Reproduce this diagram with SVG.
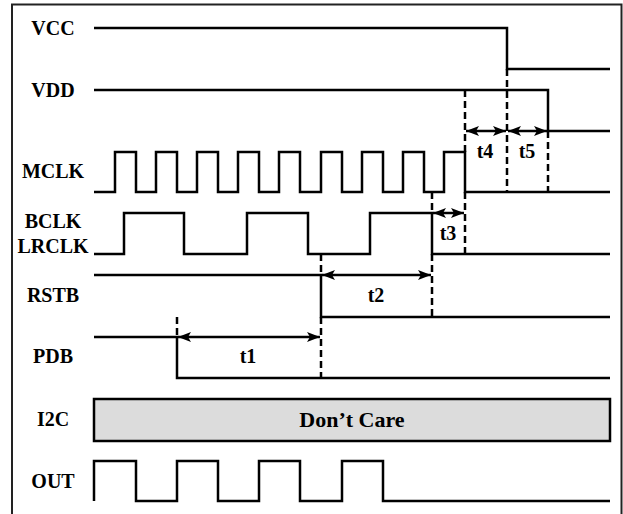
<svg xmlns="http://www.w3.org/2000/svg" width="623" height="514" viewBox="0 0 623 514">
<style>
.sig{fill:none;stroke:#000;stroke-width:2.5;stroke-linejoin:miter;stroke-linecap:butt}
.dash{fill:none;stroke:#000;stroke-width:2.5;stroke-dasharray:7,4}
.arr{fill:none;stroke:#000;stroke-width:2.5;marker-start:url(#ah);marker-end:url(#ah)}
.lbl{font-family:"Liberation Serif","Times New Roman",serif;font-weight:bold;font-size:20px;text-anchor:middle;fill:#000}
.tl{font-family:"Liberation Serif","Times New Roman",serif;font-weight:bold;font-size:20px;text-anchor:middle;fill:#000}
.dc{font-family:"Liberation Serif","Times New Roman",serif;font-weight:bold;font-size:22px;text-anchor:middle;fill:#000}
</style>
<defs>
<marker id="ah" markerUnits="userSpaceOnUse" markerWidth="14" markerHeight="12" viewBox="0 0 14 12" refX="13" refY="6" orient="auto-start-reverse">
<path d="M0,1 L13,6 L0,11 L3,6 Z" fill="#000"/>
</marker>
</defs>
<rect x="0" y="0" width="623" height="514" fill="#fff"/>
<rect x="12" y="4.5" width="609.5" height="515" fill="none" stroke="#222" stroke-width="2"/>
<g id="VCC">
<text class="lbl" x="53" y="35">VCC</text>
<path class="sig" d="M94,28 H507 V69 H610"/>
</g>
<g id="VDD">
<text class="lbl" x="53" y="97">VDD</text>
<path class="sig" d="M94,90 H548 V131 H610"/>
</g>
<g id="MCLK">
<text class="lbl" x="53" y="178">MCLK</text>
<path class="sig" d="M94,192 H115 V152 H136 V192 H156 V152 H177 V192 H197 V152 H218 V192 H238 V152 H259 V192 H279 V152 H300 V192 H321 V152 H342 V192 H362 V152 H383 V192 H403 V152 H424 V192 H444 V152 H465 V192 H610"/>
</g>
<g id="BCLK">
<text class="lbl" x="53" y="228">BCLK</text>
<text class="lbl" x="53" y="253">LRCLK</text>
<path class="sig" d="M94,254 H124 V213 H184 V254 H247 V213 H308 V254 H370 V213 H432 V254 H610"/>
</g>
<g id="RSTB">
<text class="lbl" x="53" y="302">RSTB</text>
<path class="sig" d="M94,275 H321 V317 H610"/>
</g>
<g id="PDB">
<text class="lbl" x="53" y="363">PDB</text>
<path class="sig" d="M94,337 H177 V378 H610"/>
</g>
<g id="I2C">
<text class="lbl" x="53" y="426">I2C</text>
<rect x="94" y="399" width="516" height="42" fill="#dcdcdc" stroke="#000" stroke-width="2.5"/>
<text class="dc" x="352" y="427">Don’t Care</text>
</g>
<g id="OUT">
<text class="lbl" x="53" y="488">OUT</text>
<path class="sig" d="M94,501 V461 H136 V501 H177 V461 H218 V501 H259 V461 H300 V501 H342 V461 H383 V501 H610"/>
</g>
<g id="connectors">
<path class="dash" d="M507,69 V192"/>
<path class="dash" d="M548,131 V192"/>
<path class="dash" d="M465,90 V152 M465,192 V254"/>
<path class="dash" d="M432,192 V213 M432,254 V317"/>
<path class="dash" d="M321,254 V275 M321,317 V378"/>
<path class="dash" d="M177,317 V337"/>
<path class="arr" d="M466,131 H506"/>
<path class="arr" d="M508,131 H547"/>
<path class="arr" d="M433,213 H464"/>
<path class="arr" d="M322,275 H431"/>
<path class="arr" d="M178,337 H320"/>
<text class="tl" x="485" y="158">t4</text>
<text class="tl" x="527" y="158">t5</text>
<text class="tl" x="448" y="240">t3</text>
<text class="tl" x="376" y="302">t2</text>
<text class="tl" x="248" y="363">t1</text>
</g>
</svg>
